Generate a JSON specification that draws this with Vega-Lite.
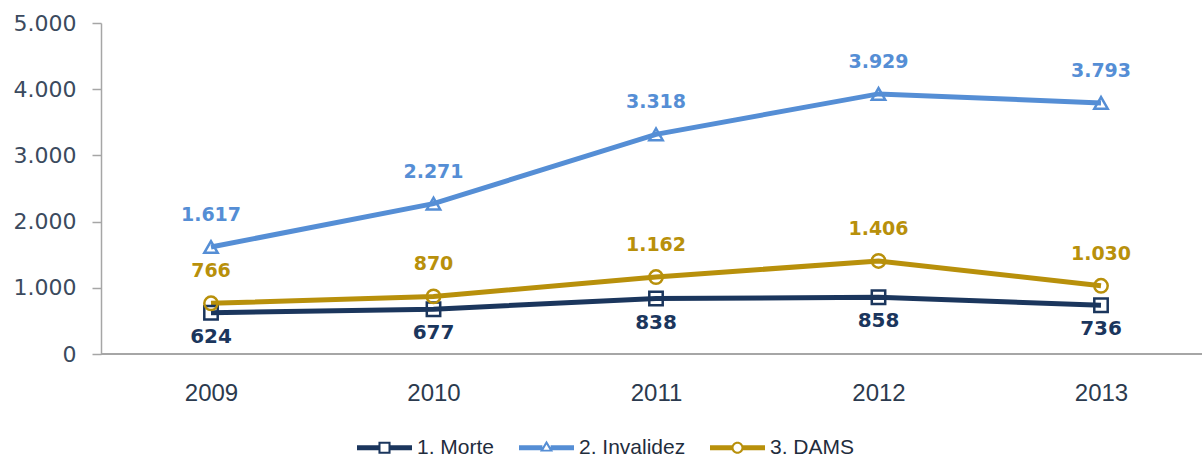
{
  "$schema": "https://vega.github.io/schema/vega-lite/v6.json",
  "width": 1101,
  "height": 331,
  "autosize": "none",
  "padding": {"left": 101, "top": 23, "right": 0, "bottom": 105},
  "config": {
    "view": {"stroke": null},
    "locale": {"number": {"decimal": ",", "thousands": ".", "grouping": [3], "currency": ["R$", ""]}}
  },
  "data": {
    "values": [
      {"ano": "2009", "serie": "1. Morte", "valor": 624},
      {"ano": "2010", "serie": "1. Morte", "valor": 677},
      {"ano": "2011", "serie": "1. Morte", "valor": 838},
      {"ano": "2012", "serie": "1. Morte", "valor": 858},
      {"ano": "2013", "serie": "1. Morte", "valor": 736},
      {"ano": "2009", "serie": "2. Invalidez", "valor": 1617},
      {"ano": "2010", "serie": "2. Invalidez", "valor": 2271},
      {"ano": "2011", "serie": "2. Invalidez", "valor": 3318},
      {"ano": "2012", "serie": "2. Invalidez", "valor": 3929},
      {"ano": "2013", "serie": "2. Invalidez", "valor": 3793},
      {"ano": "2009", "serie": "3. DAMS", "valor": 766},
      {"ano": "2010", "serie": "3. DAMS", "valor": 870},
      {"ano": "2011", "serie": "3. DAMS", "valor": 1162},
      {"ano": "2012", "serie": "3. DAMS", "valor": 1406},
      {"ano": "2013", "serie": "3. DAMS", "valor": 1030}
    ]
  },
  "layer": [
    {
      "mark": {"type": "rule", "color": "#a6a6a6", "strokeWidth": 1.5},
      "encoding": {"y": {"datum": 0, "type": "quantitative", "scale": {"domain": [0, 5000], "nice": false}}}
    },
    {
      "mark": {"type": "line", "strokeWidth": 5},
      "encoding": {
        "x": {
          "field": "ano", "type": "ordinal",
          "scale": {"type": "point", "range": [110, 1000], "padding": 0},
          "axis": {
            "title": null, "labelAngle": 0, "ticks": false, "domain": false,
            "labelFont": "Liberation Sans", "labelFontSize": 24, "labelColor": "#2b3a4e", "labelPadding": 27
          }
        },
        "y": {
          "field": "valor", "type": "quantitative",
          "scale": {"domain": [0, 5000], "nice": false},
          "axis": {
            "title": null, "values": [0, 1000, 2000, 3000, 4000, 5000], "format": ",d", "grid": false,
            "domainColor": "#a6a6a6", "domainWidth": 1.5, "tickColor": "#a6a6a6", "tickWidth": 1.5, "tickSize": 9,
            "labelFont": "DejaVu Sans", "labelFontSize": 22, "labelColor": "#3b4a5e", "labelPadding": 16
          }
        },
        "color": {
          "field": "serie", "type": "nominal",
          "scale": {"domain": ["1. Morte", "2. Invalidez", "3. DAMS"], "range": ["#1b365d", "#558ed5", "#b8900b"]},
          "legend": {
            "orient": "none", "legendX": 256, "legendY": 397, "direction": "horizontal", "title": null,
            "symbolSize": 3025, "labelFont": "Liberation Sans", "labelFontSize": 21, "labelColor": "#1f2d3d",
            "labelOffset": 5, "columnPadding": 24, "padding": 0,
            "encode": {
              "symbols": {
                "update": {
                  "shape": {"signal": "datum.value === '1. Morte' ? 'M-1,-0.09H-0.22V0.09H-1Z M0.22,-0.09H1V0.09H0.22Z M-0.22,-0.22H0.22V0.22H-0.22Z M-0.145,-0.145V0.145H0.145V-0.145Z' : datum.value === '2. Invalidez' ? 'M-1,-0.09H-0.15V0.09H-1Z M0.15,-0.09H1V0.09H0.15Z M0,-0.26L0.24,0.14H-0.24Z M0,-0.114L-0.11,0.07H0.11Z' : 'M-1,-0.09H-0.2V0.09H-1Z M0.2,-0.09H1V0.09H0.2Z M-0.22,0A0.22,0.22 0 1,1 0.22,0A0.22,0.22 0 1,1 -0.22,0Z M-0.145,0A0.145,0.145 0 1,0 0.145,0A0.145,0.145 0 1,0 -0.145,0Z'"},
                  "fill": {"signal": "scale('color', datum.value)"},
                  "fillOpacity": {"value": 1},
                  "stroke": {"value": "transparent"},
                  "strokeWidth": {"value": 0}
                }
              }
            }
          }
        }
      }
    },
    {
      "transform": [{"filter": "datum.serie === '1. Morte'"}],
      "mark": {"type": "point", "shape": "square", "filled": false, "strokeWidth": 2.5, "size": 180, "opacity": 1},
      "encoding": {
        "x": {"field": "ano", "type": "ordinal"},
        "y": {"field": "valor", "type": "quantitative"},
        "color": {"field": "serie", "type": "nominal"}
      }
    },
    {
      "transform": [{"filter": "datum.serie === '2. Invalidez'"}],
      "mark": {"type": "point", "shape": "triangle-up", "filled": false, "strokeWidth": 2.5, "size": 180, "opacity": 1},
      "encoding": {
        "x": {"field": "ano", "type": "ordinal"},
        "y": {"field": "valor", "type": "quantitative"},
        "color": {"field": "serie", "type": "nominal"}
      }
    },
    {
      "transform": [{"filter": "datum.serie === '3. DAMS'"}],
      "mark": {"type": "point", "shape": "circle", "filled": false, "strokeWidth": 2.5, "size": 180, "opacity": 1},
      "encoding": {
        "x": {"field": "ano", "type": "ordinal"},
        "y": {"field": "valor", "type": "quantitative"},
        "color": {"field": "serie", "type": "nominal"}
      }
    },
    {
      "transform": [{"filter": "datum.serie === '1. Morte'"}],
      "mark": {"type": "text", "font": "DejaVu Sans", "fontWeight": "bold", "fontSize": 20, "dy": 24, "baseline": "middle"},
      "encoding": {
        "x": {"field": "ano", "type": "ordinal"},
        "y": {"field": "valor", "type": "quantitative"},
        "color": {"field": "serie", "type": "nominal"},
        "text": {"field": "valor", "type": "quantitative", "format": ",d"}
      }
    },
    {
      "transform": [{"filter": "datum.serie !== '1. Morte'"}],
      "mark": {"type": "text", "font": "DejaVu Sans", "fontWeight": "bold", "fontSize": 19, "dy": -32, "baseline": "middle"},
      "encoding": {
        "x": {"field": "ano", "type": "ordinal"},
        "y": {"field": "valor", "type": "quantitative"},
        "color": {"field": "serie", "type": "nominal"},
        "text": {"field": "valor", "type": "quantitative", "format": ",d"}
      }
    }
  ]
}
